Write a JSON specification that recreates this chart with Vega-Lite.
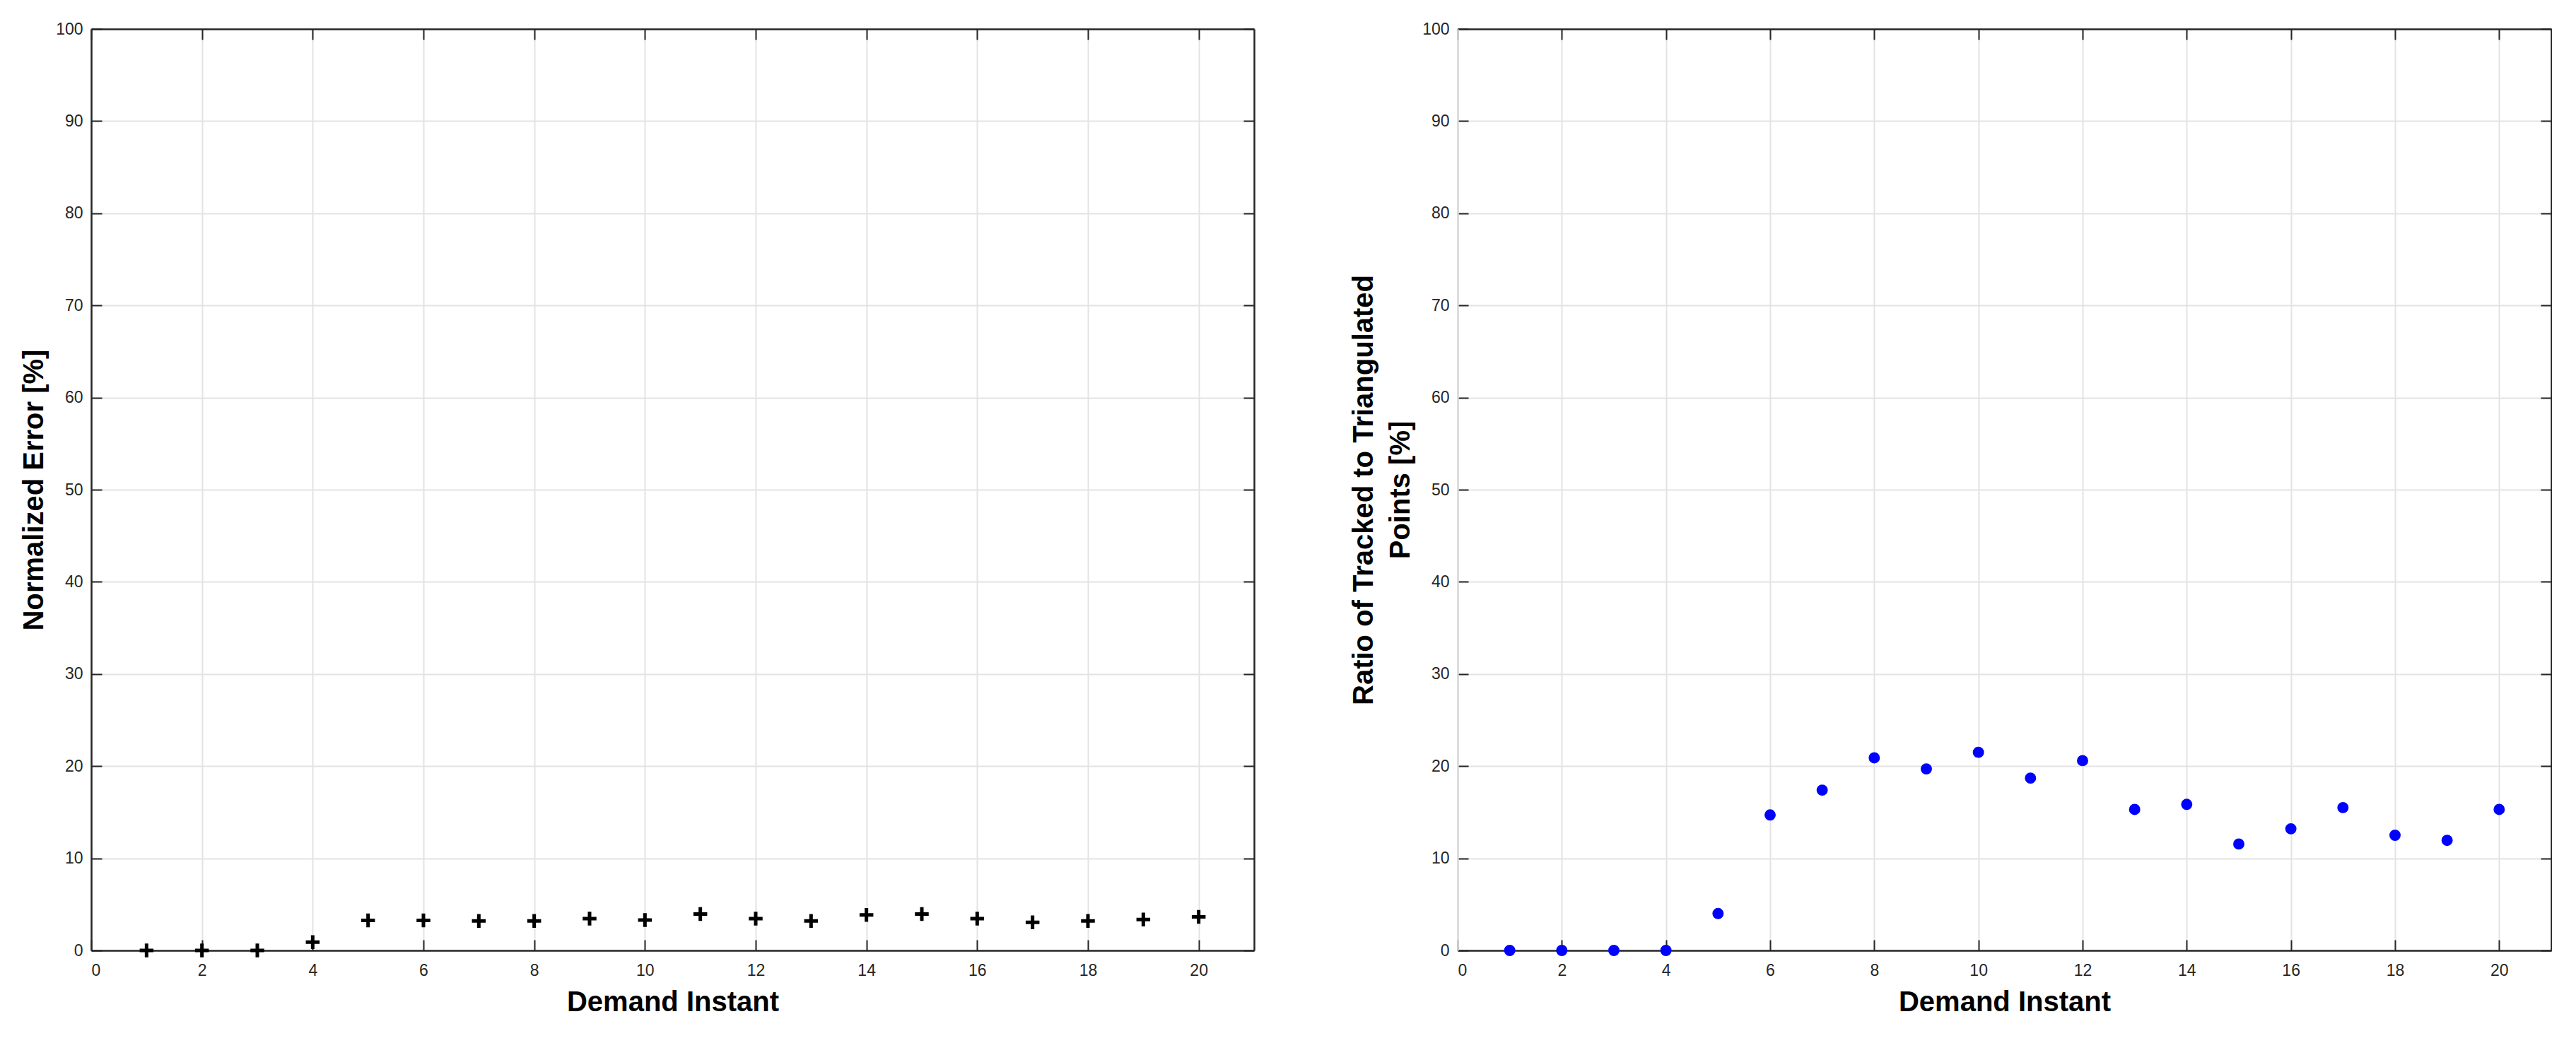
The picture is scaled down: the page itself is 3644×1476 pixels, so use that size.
{
  "$schema": "https://vega.github.io/schema/vega-lite/v6.json",
  "background": "white",
  "padding": {"left": 28, "top": 30, "right": 0, "bottom": 0},
  "spacing": 134,
  "data": {"values": [
    {"instant": 1, "error": 0, "ratio": 0},
    {"instant": 2, "error": 0, "ratio": 0},
    {"instant": 3, "error": 0, "ratio": 0},
    {"instant": 4, "error": 0.9, "ratio": 0},
    {"instant": 5, "error": 3.25, "ratio": 4.0},
    {"instant": 6, "error": 3.25, "ratio": 14.7},
    {"instant": 7, "error": 3.2, "ratio": 17.4},
    {"instant": 8, "error": 3.2, "ratio": 20.9},
    {"instant": 9, "error": 3.45, "ratio": 19.7},
    {"instant": 10, "error": 3.3, "ratio": 21.5},
    {"instant": 11, "error": 3.95, "ratio": 18.7},
    {"instant": 12, "error": 3.45, "ratio": 20.6},
    {"instant": 13, "error": 3.2, "ratio": 15.3},
    {"instant": 14, "error": 3.85, "ratio": 15.85},
    {"instant": 15, "error": 3.95, "ratio": 11.55},
    {"instant": 16, "error": 3.45, "ratio": 13.2},
    {"instant": 17, "error": 3.05, "ratio": 15.5},
    {"instant": 18, "error": 3.2, "ratio": 12.5},
    {"instant": 19, "error": 3.35, "ratio": 11.95},
    {"instant": 20, "error": 3.65, "ratio": 15.3}
  ]},
  "config": {
    "view": {"stroke": null},
    "font": "Liberation Sans",
    "axis": {
      "gridColor": "#e3e3e3",
      "gridWidth": 2,
      "gridOpacity": 1,
      "domainColor": "#262626",
      "domainWidth": 2.5,
      "tickColor": "#262626",
      "tickWidth": 2,
      "tickSize": -15,
      "labelFont": "Liberation Sans",
      "labelFontSize": 23,
      "labelColor": "#262626",
      "titleFont": "Liberation Sans",
      "titleFontSize": 40,
      "titleFontWeight": "bold",
      "titleColor": "#000000",
      "titleLineHeight": 52
    }
  },
  "hconcat": [
    {
      "width": 1645,
      "height": 1304,
      "layer": [
        {
          "mark": {"type": "point", "shape": "M-1,0H1M0,-1V1", "filled": false, "stroke": "#000000", "strokeWidth": 5, "size": 380, "opacity": 1},
          "encoding": {
            "x": {"field": "instant", "type": "quantitative", "scale": {"domain": [0, 21], "nice": false, "zero": false},
                  "axis": {"orient": "bottom", "values": [0,2,4,6,8,10,12,14,16,18,20], "grid": true, "labelPadding": 32, "title": "Demand Instant", "titlePadding": 13}},
            "y": {"field": "error", "type": "quantitative", "scale": {"domain": [0, 100], "nice": false},
                  "axis": {"orient": "left", "values": [0,10,20,30,40,50,60,70,80,90,100], "grid": true, "labelPadding": 27, "title": "Normalized Error [%]", "titlePadding": 10}}
          }
        },
        {
          "mark": {"type": "point", "opacity": 0},
          "encoding": {
            "x": {"field": "instant", "type": "quantitative", "scale": {"domain": [0, 21], "nice": false, "zero": false},
                  "axis": {"orient": "top", "values": [0,2,4,6,8,10,12,14,16,18,20], "grid": false, "labels": false, "title": null}},
            "y": {"field": "error", "type": "quantitative", "scale": {"domain": [0, 100], "nice": false},
                  "axis": {"orient": "right", "values": [0,10,20,30,40,50,60,70,80,90,100], "grid": false, "labels": false, "title": null}}
          }
        }
      ],
      "resolve": {"axis": {"x": "independent", "y": "independent"}}
    },
    {
      "width": 1547,
      "height": 1304,
      "layer": [
        {
          "mark": {"type": "circle", "color": "#0000ff", "size": 254, "opacity": 1},
          "encoding": {
            "x": {"field": "instant", "type": "quantitative", "scale": {"domain": [0, 21], "nice": false, "zero": false},
                  "axis": {"orient": "bottom", "values": [0,2,4,6,8,10,12,14,16,18,20], "grid": true, "labelPadding": 32, "title": "Demand Instant", "titlePadding": 13}},
            "y": {"field": "ratio", "type": "quantitative", "scale": {"domain": [0, 100], "nice": false},
                  "axis": {"orient": "left", "values": [0,10,20,30,40,50,60,70,80,90,100], "grid": true, "domainColor": "#d9d9d9", "labelPadding": 27, "title": ["Ratio of Tracked to Triangulated", "Points [%]"], "titlePadding": 10}}
          }
        },
        {
          "mark": {"type": "point", "opacity": 0},
          "encoding": {
            "x": {"field": "instant", "type": "quantitative", "scale": {"domain": [0, 21], "nice": false, "zero": false},
                  "axis": {"orient": "top", "values": [0,2,4,6,8,10,12,14,16,18,20], "grid": false, "labels": false, "title": null}},
            "y": {"field": "ratio", "type": "quantitative", "scale": {"domain": [0, 100], "nice": false},
                  "axis": {"orient": "right", "values": [0,10,20,30,40,50,60,70,80,90,100], "grid": false, "labels": false, "title": null}}
          }
        }
      ],
      "resolve": {"axis": {"x": "independent", "y": "independent"}}
    }
  ]
}
